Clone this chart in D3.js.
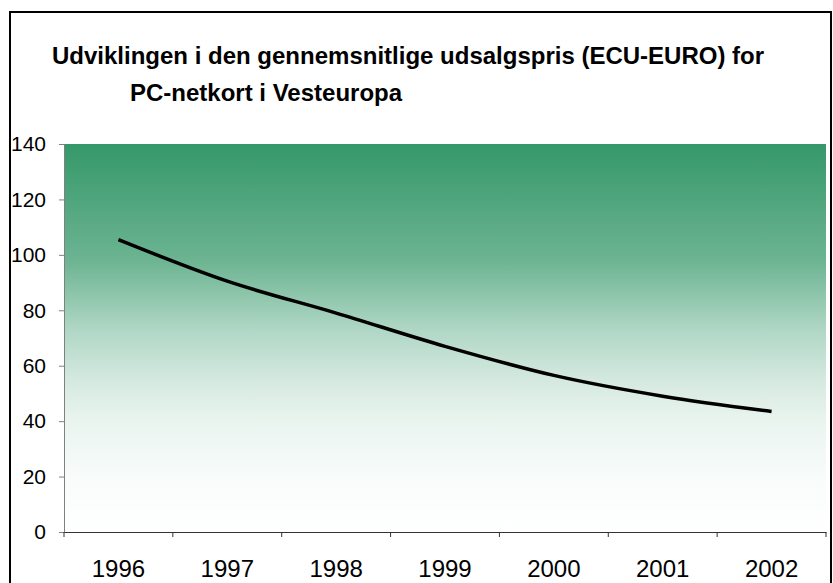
<!DOCTYPE html>
<html>
<head>
<meta charset="utf-8">
<script src="https://cdn.jsdelivr.net/npm/d3@7"></script>
<style>
  body { margin: 0; background: #fff; }
  svg { display: block; font-family: "Liberation Sans", Arial, sans-serif; }
</style>
</head>
<body>
<div id="container"></div>
<script>
const w = 833;
const h = 583;
const years = ['1996','1997','1998','1999','2000','2001','2002'];
const prices = [105.5, 90.5, 79, 67, 56.5, 49, 43.5];
const yTicks = [0, 20, 40, 60, 80, 100, 120, 140];
const titleLines = ['Udviklingen i den gennemsnitlige udsalgspris (ECU-EURO) for', 'PC-netkort i Vesteuropa'];

const plotLeft = 64;
const plotRight = 826;
const plotTop = 144;
const plotBottom = 532;

const svg = d3.select('#container')
              .append('svg')
              .attr('width',w)
              .attr('height',h);

// chart border
svg.append('rect')
  .attr('x',10)
  .attr('y',12)
  .attr('width',821)
  .attr('height',h)
  .attr('fill','none')
  .attr('stroke','black')
  .attr('stroke-width',2);

svg.selectAll('.title')
  .data(titleLines)
  .enter()
  .append('text')
  .attr('class','title')
  .attr('x',(d,i) => i === 0 ? 52 : 130)
  .attr('y',(d,i) => 64 + i * 37)
  .style('font-size','24px')
  .style('font-weight','bold')
  .text(d => d);

const xScale = d3.scaleBand()
                .domain(years)
                .range([plotLeft,plotRight]);
const yScale = d3.scaleLinear()
                .domain([0,140])
                .range([plotBottom,plotTop]);

// background gradient, fades to white faster in the lower half
const toWhite = d3.interpolateRgb('#35986a','#ffffff');
const stops = [[0,0],[0.3,0.27],[0.48,0.61],[0.61,0.79],[0.71,0.89],[0.87,0.97],[1,1]];
const grad = svg.append('defs')
  .append('linearGradient')
  .attr('id','bg')
  .attr('x1',0).attr('y1',0)
  .attr('x2',0).attr('y2',1);
grad.selectAll('stop')
  .data(stops)
  .enter()
  .append('stop')
  .attr('offset',d => d[0])
  .attr('stop-color',d => toWhite(d[1]));

svg.append('rect')
  .attr('x',plotLeft)
  .attr('y',yScale(140))
  .attr('width',plotRight - plotLeft)
  .attr('height',yScale(0) - yScale(140))
  .attr('fill','url(#bg)');

const line = d3.line()
  .x((d,i) => xScale(years[i]) + xScale.bandwidth() / 2)
  .y(d => yScale(d))
  .curve(d3.curveMonotoneX);

svg.append('path')
  .datum(prices)
  .attr('d',line)
  .attr('fill','none')
  .attr('stroke','black')
  .attr('stroke-width',3.5)
  .attr('stroke-linejoin','round');

const yAxis = d3.axisLeft(yScale)
  .tickValues(yTicks)
  .tickSize(5)
  .tickPadding(13);
const gy = svg.append('g')
  .attr('transform',`translate(${plotLeft},0)`)
  .call(yAxis);
gy.select('.domain').attr('stroke','#808080');
gy.selectAll('.tick line').attr('stroke','#808080');
gy.selectAll('.tick text')
  .attr('fill','black')
  .style('font-size','21px')
  .style('font-family','"Liberation Sans", Arial, sans-serif');

// category axis with ticks between categories
const xAxis = d3.axisBottom(xScale)
  .tickSize(0)
  .tickPadding(28);
const gx = svg.append('g')
  .attr('transform',`translate(0,${plotBottom})`)
  .call(xAxis);
gx.select('.domain').attr('stroke','#333');
gx.selectAll('.tick text')
  .attr('fill','black')
  .style('font-size','24px')
  .style('font-family','"Liberation Sans", Arial, sans-serif');
gx.selectAll('.sep')
  .data(years.concat(['end']))
  .enter()
  .append('line')
  .attr('class','sep')
  .attr('x1',(d,i) => plotLeft + i * xScale.step())
  .attr('x2',(d,i) => plotLeft + i * xScale.step())
  .attr('y1',0)
  .attr('y2',5)
  .attr('stroke','#333');
</script>
</body>
</html>
